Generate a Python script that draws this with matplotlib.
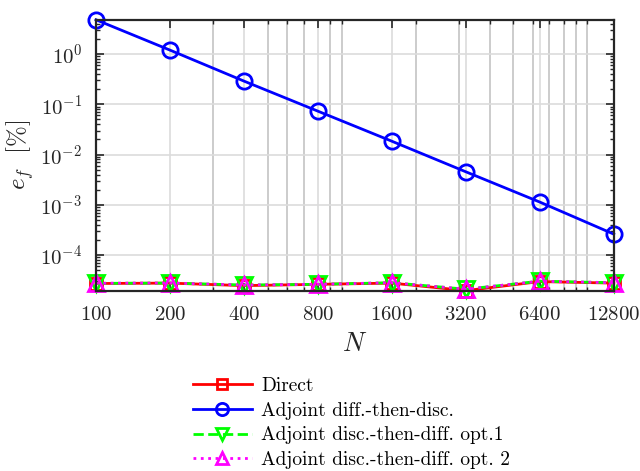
import numpy as np
import matplotlib
matplotlib.use('Agg')
from matplotlib import pyplot as plt
from matplotlib import ticker

plt.rcParams['mathtext.fontset'] = 'cm'
plt.rcParams['font.family'] = 'serif'
plt.rcParams['font.serif'] = ['cmr10', 'DejaVu Serif']
plt.rcParams['axes.formatter.use_mathtext'] = True
plt.rcParams['axes.unicode_minus'] = False

N = [100, 200, 400, 800, 1600, 3200, 6400, 12800]
err_direct = [2.7e-5, 2.75e-5, 2.45e-5, 2.6e-5, 2.75e-5, 1.95e-5, 2.95e-5, 2.75e-5]
err_adj_dtd = [4.82, 1.2, 0.29, 0.073, 0.0184, 0.00453, 0.00113, 2.6e-4]
err_adj_opt1 = [2.72e-5, 2.75e-5, 2.52e-5, 2.6e-5, 2.8e-5, 2.08e-5, 3.0e-5, 2.8e-5]
err_adj_opt2 = [2.73e-5, 2.76e-5, 2.52e-5, 2.6e-5, 2.8e-5, 2.08e-5, 3.0e-5, 2.8e-5]

labels = ['Direct', 'Adjoint diff.-then-disc.',
          'Adjoint disc.-then-diff. opt.1', 'Adjoint disc.-then-diff. opt. 2']

fig = plt.figure(figsize=(6.4, 4.71), dpi=100)
ax = fig.add_axes([0.15, 0.383, 0.809, 0.575])

ms = 11
mew = 2
common = dict(lw=2, mfc='none', mew=mew, clip_on=False)
ax.plot(N, err_direct, '-', color='#ff0000', marker='s', ms=ms * 0.8,
        label=labels[0], **common)
ax.plot(N, err_adj_dtd, '-', color='#0000ff', marker='o', ms=ms,
        label=labels[1], **common)
ax.plot(N, err_adj_opt1, '--', color='#00ff00', marker='v', ms=ms,
        label=labels[2], **common)
ax.plot(N, err_adj_opt2, ':', color='#ff00ff', marker='^', ms=ms,
        label=labels[3], **common)

ax.set_xscale('log')
ax.set_yscale('log')
ax.set_xlim(N[0], N[-1])
ax.set_ylim(1.95e-5, 4.82)

ax.xaxis.set_major_locator(ticker.FixedLocator(N))
ax.xaxis.set_major_formatter(ticker.FixedFormatter(['$%d$' % n for n in N]))
minor = [m * 10 ** e for e in (2, 3, 4) for m in range(1, 10)]
minor = [v for v in minor if N[0] < v < N[-1] and v not in N]
ax.xaxis.set_minor_locator(ticker.FixedLocator(minor))
ax.xaxis.set_minor_formatter(ticker.NullFormatter())

ax.yaxis.set_major_locator(ticker.LogLocator(base=10))
ax.yaxis.set_minor_locator(ticker.LogLocator(base=10, subs=np.arange(2, 10), numticks=20))
ax.yaxis.set_minor_formatter(ticker.NullFormatter())

ax.grid(True, which='major', color='#dcdcdc', lw=1.2)
ax.grid(True, which='minor', axis='x', color='#c4c4c4', lw=1.2)
ax.set_axisbelow(True)

ax.tick_params(which='both', direction='in', top=True, right=True,
               colors='#262626', labelsize=15)
ax.tick_params(which='major', length=6, width=1.2)
ax.tick_params(which='minor', length=3, width=1.0)
ax.tick_params(axis='x', which='major', pad=11)
ax.tick_params(axis='y', which='major', pad=10)
for s in ax.spines.values():
    s.set_color('#262626')
    s.set_linewidth(1.6)

ax.set_xlabel('$N$', fontsize=19, color='#262626', labelpad=6)
ax.set_ylabel(r'$e_f\ \ [\%]$', fontsize=18, color='#262626', labelpad=3)

fig.legend(loc='upper left', bbox_to_anchor=(0.302, 0.2), frameon=False,
           fontsize=14, handlelength=3.0, labelspacing=0.35, handletextpad=0.5,
           markerscale=0.8, borderaxespad=0, borderpad=0)

fig.savefig('out.png', dpi=100)
